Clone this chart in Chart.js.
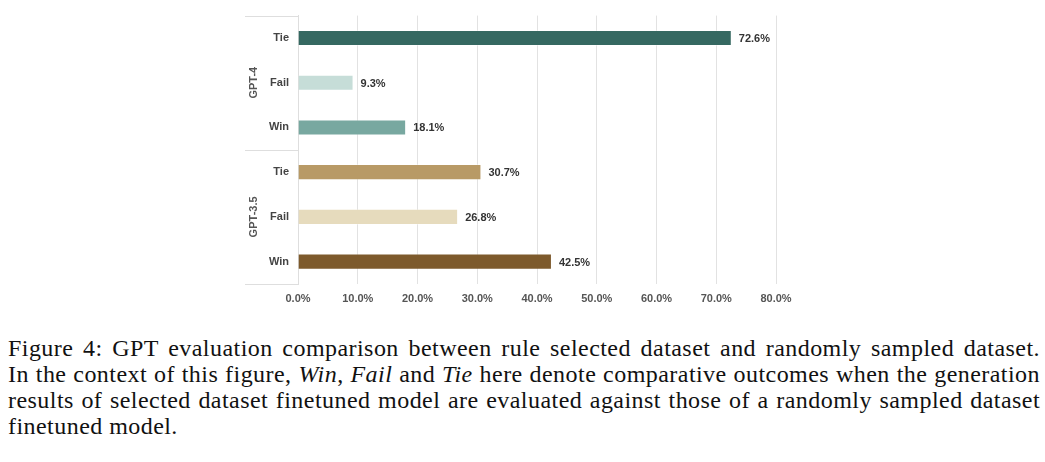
<!DOCTYPE html>
<html>
<head>
<meta charset="utf-8">
<script src="https://cdn.jsdelivr.net/npm/chart.js@4.4.0/dist/chart.umd.min.js"></script>
<style>
  body { margin: 0; background: #fff; width: 1045px; height: 462px; overflow: hidden; position: relative; }
  #wrap { position: absolute; left: 0; top: 0; width: 1045px; height: 315px; }
  #caption { position: absolute; left: 8px; top: 335px; width: 1032px;
    font-family: "Liberation Serif", "Times New Roman", serif; font-size: 24px; line-height: 26px; color: #111; }
  #caption div { white-space: nowrap; }
</style>
</head>
<body>
<div id="wrap"><canvas id="chart"></canvas></div>
<div id="caption">
  <div><span class="l">Figure 4: GPT evaluation comparison between rule selected dataset and randomly sampled dataset.</span></div>
  <div><span class="l">In the context of this figure, <i>Win</i>, <i>Fail</i> and <i>Tie</i> here denote comparative outcomes when the generation</span></div>
  <div><span class="l">results of selected dataset finetuned model are evaluated against those of a randomly sampled dataset</span></div>
  <div><span class="u">finetuned model.</span></div>
</div>
<script>
// datos
const categorias = ['Tie', 'Fail', 'Win', 'Tie', 'Fail', 'Win'];
const grupos = ['GPT-4', 'GPT-3.5'];
const valores = [72.6, 9.3, 18.1, 30.7, 26.8, 42.5];
const colores = ['#356861', '#c6ddd8', '#78a8a0', '#b89a66', '#e6dbbd', '#7d5a2c'];
const ticksX = [0, 10, 20, 30, 40, 50, 60, 70, 80];

const fuente = 'Liberation Sans, Arial, sans-serif';

// la fuente del pie es algo más estrecha que la original: repartir el hueco
const espacioLetra = 0.45;
document.querySelectorAll('#caption span').forEach(span => {
    span.style.letterSpacing = espacioLetra + 'px';
    if (!span.classList.contains('l')) return;
    const ancho = span.getBoundingClientRect().width;
    const huecos = (span.textContent.match(/ /g) || []).length;
    span.style.wordSpacing = ((1032 - ancho) / huecos) + 'px';
});

// etiquetas de valor al final de cada barra
const etiquetasValor = {
    id: 'etiquetasValor',
    afterDatasetsDraw(chart) {
        const ctx = chart.ctx;
        const meta = chart.getDatasetMeta(0);
        ctx.save();
        ctx.font = 'bold 11px ' + fuente;
        ctx.fillStyle = '#333';
        ctx.textAlign = 'left';
        ctx.textBaseline = 'middle';
        meta.data.forEach((bar, i) => {
            ctx.fillText(valores[i].toFixed(1) + '%', bar.x + 7, bar.y + 1);
        });
        ctx.restore();
    }
};

// nombres de grupo y líneas separadoras a la izquierda
const grupoEje = {
    id: 'grupoEje',
    afterDraw(chart) {
        const ctx = chart.ctx;
        const area = chart.chartArea;
        const paso = (area.bottom - area.top) / categorias.length;
        ctx.save();
        ctx.strokeStyle = '#dedede';
        ctx.lineWidth = 1;
        for (let g = 0; g <= grupos.length; g++) {
            const yy = Math.round(area.top + g * 3 * paso) + 0.5;
            ctx.beginPath();
            ctx.moveTo(245, yy);
            ctx.lineTo(area.left, yy);
            ctx.stroke();
        }
        ctx.font = 'bold 11px ' + fuente;
        ctx.fillStyle = '#555';
        ctx.textAlign = 'center';
        ctx.textBaseline = 'middle';
        grupos.forEach((nombre, g) => {
            const yc = area.top + (g * 3 + 1.5) * paso;
            ctx.save();
            ctx.translate(254, yc);
            ctx.rotate(-Math.PI / 2);
            ctx.fillText(nombre, 0, 0);
            ctx.restore();
        });
        ctx.restore();
    }
};

new Chart(document.getElementById('chart'), {
    type: 'bar',
    data: {
        labels: categorias,
        datasets: [{
            data: valores,
            backgroundColor: colores,
            borderColor: 'rgba(255,255,255,0.35)',
            borderWidth: 1,
            barPercentage: 0.36,
            categoryPercentage: 1
        }]
    },
    options: {
        indexAxis: 'y',
        responsive: true,
        maintainAspectRatio: false,
        animation: false,
        layout: { padding: { left: 240, right: 269, top: 15, bottom: 0 } },
        plugins: { legend: { display: false }, tooltip: { enabled: false } },
        scales: {
            x: {
                min: 0,
                max: 80,
                afterBuildTicks(scale) { scale.ticks = ticksX.map(v => ({ value: v })); },
                afterFit(scale) { scale.height = 31; },
                grid: { color: '#e2e2e2', drawTicks: false },
                border: { display: false },
                ticks: {
                    padding: 8,
                    color: '#555',
                    font: { family: fuente, size: 11, weight: 'bold' },
                    callback: v => v.toFixed(1) + '%'
                }
            },
            y: {
                afterFit(scale) { scale.width = 58; },
                grid: { display: false, drawTicks: false },
                border: { display: true, color: '#dedede' },
                ticks: {
                    padding: 9,
                    color: '#444',
                    font: { family: fuente, size: 11, weight: 'bold' }
                }
            }
        }
    },
    plugins: [etiquetasValor, grupoEje]
});
</script>
</body>
</html>
